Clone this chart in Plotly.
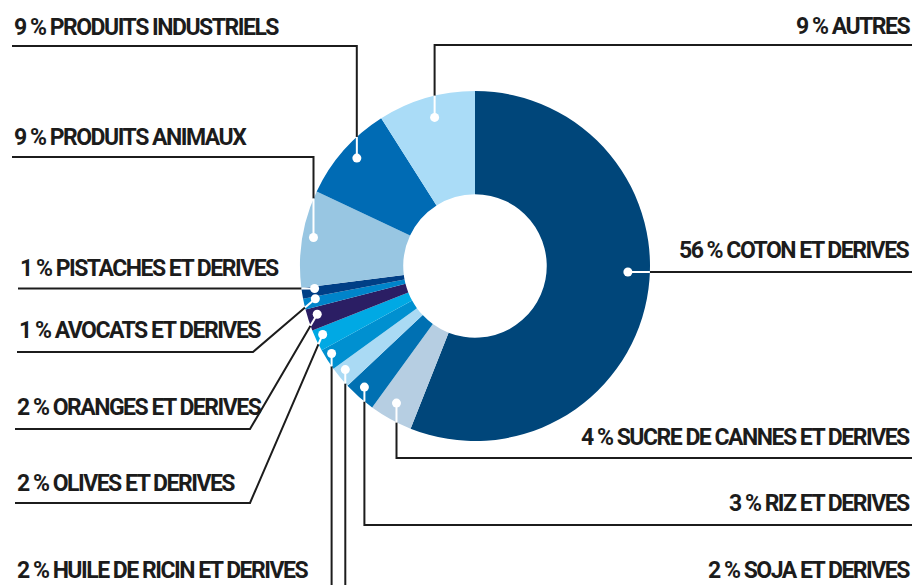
import math
import plotly.graph_objects as go

labels = ["COTON ET DERIVES", "SUCRE DE CANNES ET DERIVES", "RIZ ET DERIVES", "SOJA ET DERIVES",
          "HUILE DE RICIN ET DERIVES", "OLIVES ET DERIVES", "ORANGES ET DERIVES", "AVOCATS ET DERIVES",
          "PISTACHES ET DERIVES", "PRODUITS ANIMAUX", "PRODUITS INDUSTRIELS", "AUTRES"]
values = [56, 4, 3, 2, 2, 2, 2, 1, 1, 9, 9, 9]
colors = ["#00467a", "#b6cee2", "#0070b2", "#aadaf4", "#0090d0", "#00a9e4",
          "#2b1e64", "#0084ca", "#003f86", "#98c6e2", "#006bb4", "#aadcf7"]

W, H = 922, 585
cx, cy, R = 475, 266, 175
hole = 0.41
ink = "#1c1c1c"
font = "Roboto, Liberation Sans, sans-serif"

# callout layout per slice: route, line y, elbow x, line end x, side, text y, dot radius
callouts = [
    dict(route="h", ly=272, end=912, side="right", ty=250, ang=92.2, r=153),
    dict(route="v", ly=458, end=912, side="right", ty=437, r=158),
    dict(route="v", ly=525, end=912, side="right", ty=503, r=164),
    dict(route="v", ly=600, end=None, side="right", ty=570, r=166),
    dict(route="v", ly=600, end=None, side="left", ty=570, r=168),
    dict(route="d", ly=503, ex=250, end=15, side="left", ty=483, r=167),
    dict(route="d", ly=429, ex=250, end=15, side="left", ty=407, r=165),
    dict(route="d", ly=352, ex=253, end=17, side="left", ty=330, r=163),
    dict(route="h", ly=None, end=18, side="left", ty=268, r=162),
    dict(route="v", ly=157, end=12, side="left", ty=137, r=164),
    dict(route="v", ly=46, end=12, side="left", ty=27, r=160),
    dict(route="v", ly=45, end=912, side="right", ty=26, r=154),
]

fig = go.Figure()
fig.add_trace(go.Pie(
    labels=labels, values=values, sort=False, direction="clockwise", rotation=0,
    hole=hole, marker=dict(colors=colors, line=dict(width=0)),
    textinfo="none", hoverinfo="label+percent", showlegend=False,
    domain=dict(x=[(cx - R) / W, (cx + R) / W], y=[(H - cy - R) / H, (H - cy + R) / H]),
))


def edge_point(px, py, qx, qy):
    dx, dy = qx - px, qy - py
    n = math.hypot(dx, dy)
    dx, dy = dx / n, dy / n
    ox, oy = px - cx, py - cy
    b = ox * dx + oy * dy
    t = -b + math.sqrt(b * b - (ox * ox + oy * oy - R * R))
    return px + t * dx, py + t * dy


shapes = []
dots = []
annotations = []
total = sum(values)
cum = 0
for lab, v, c in zip(labels, values, callouts):
    # dot sits near the middle of its slice
    ang = c.get("ang", (cum + v / 2) / total * 360 + 1)
    cum += v
    r = c["r"]
    px = cx + r * math.sin(math.radians(ang))
    py = cy - r * math.cos(math.radians(ang))
    if c["route"] == "h":
        ly = c["ly"] if c["ly"] is not None else py
        py = ly
        q = (c["end"], ly)
        pts = [q]
    elif c["route"] == "v":
        q = (px, c["ly"])
        pts = [q] + ([(c["end"], c["ly"])] if c["end"] is not None else [])
    else:
        q = (c["ex"], c["ly"])
        pts = [q, (c["end"], c["ly"])]
    ex, ey = edge_point(px, py, q[0], q[1])
    path = "M %.1f %.1f " % (ex, ey) + " ".join("L %.1f %.1f" % p for p in pts)
    shapes.append(dict(type="path", path=path, xref="x", yref="y",
                       line=dict(color=ink, width=2)))
    shapes.append(dict(type="line", x0=px, y0=py, x1=ex, y1=ey, xref="x", yref="y",
                       line=dict(color="white", width=2)))
    dots.append(dict(type="circle", x0=px - 4.5, x1=px + 4.5, y0=py - 4.5, y1=py + 4.5,
                     xref="x", yref="y", fillcolor="white", line=dict(width=0)))
    tx = 912 if c["side"] == "right" else (c["end"] if c["end"] is not None else 15)
    annotations.append(dict(
        x=tx, y=c["ty"], xref="x", yref="y", showarrow=False,
        xanchor="right" if c["side"] == "right" else "left", yanchor="middle",
        text='<span style="letter-spacing:-1.5px">%d %% %s</span>' % (v, lab),
        font=dict(family=font, size=23, color=ink, weight="bold"),
    ))

fig.update_layout(
    width=W, height=H, margin=dict(l=0, r=0, t=0, b=0),
    paper_bgcolor="white", plot_bgcolor="white",
    xaxis=dict(range=[0, W], visible=False, fixedrange=True),
    yaxis=dict(range=[H, 0], visible=False, fixedrange=True),
    shapes=shapes + dots, annotations=annotations,
)

fig.write_html("out.html", config={"displayModeBar": False},
               post_script="document.body.style.margin = '0';")
